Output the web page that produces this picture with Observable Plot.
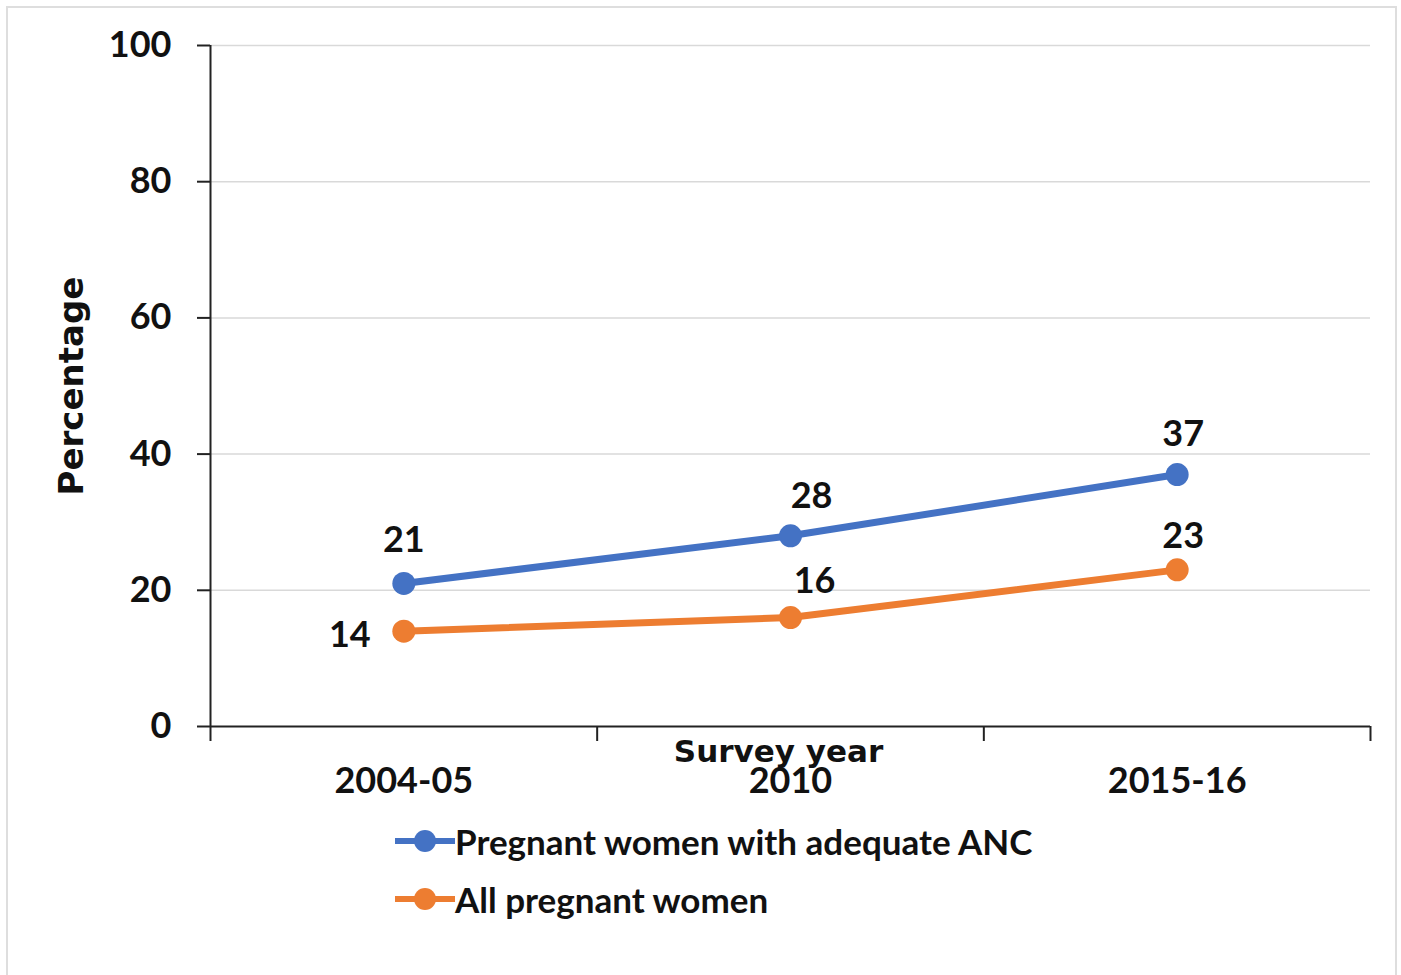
<!DOCTYPE html>
<html>
<head>
<meta charset="utf-8">
<script src="https://cdn.jsdelivr.net/npm/d3@7"></script>
<script src="https://cdn.jsdelivr.net/npm/@observablehq/plot@0.6"></script>
<style>
  html, body { margin: 0; padding: 0; background: #fff; overflow: hidden; }
  body { width: 1401px; height: 975px; position: relative; font-family: Lato, "Open Sans", sans-serif; font-weight: 700; }
  #frame { position: absolute; left: 6px; top: 6px; width: 1391px; height: 1000px; border: 2px solid #dedede; box-sizing: border-box; }
  #chart { position: absolute; left: 0; top: 0; }
  #legend { position: absolute; left: 393px; top: 812px; font-size: 35px; color: #111; }
  .item { display: flex; align-items: center; height: 58px; }
  .item svg { display: block; margin-right: 0; }
</style>
</head>
<body>
<div id="frame"></div>
<div id="chart"></div>
<div id="legend"></div>
<script>
// ---- data ----
const years = ["2004-05", "2010", "2015-16"];
const seriesNames = ["Pregnant women with adequate ANC", "All pregnant women"];
const adequateANC = [21, 28, 37];
const allPregnant = [14, 16, 23];
const yTicks = [0, 20, 40, 60, 80, 100];
const colors = ["#4472C4", "#ED7D31"];

const rows = [];
years.forEach((yr, i) => {
  rows.push({series: seriesNames[0], i: i + 0.5, year: yr, value: adequateANC[i]});
  rows.push({series: seriesNames[1], i: i + 0.5, year: yr, value: allPregnant[i]});
});
const yearTicks = years.map((_, i) => i + 0.5);
const boundaries = d3.range(years.length + 1);

const font = "Lato, 'Open Sans', sans-serif";
const titleFont = "'DejaVu Sans', Verdana, sans-serif";
const labelStyle = {fontSize: 36, fontWeight: 700, fill: "#111", fontFamily: font};
const titleStyle = {fontSize: 31, fontWeight: 700, fill: "#111", fontFamily: titleFont, textAnchor: "middle", lineAnchor: "middle"};
const pick = (s, yi) => d => d.series === seriesNames[s] && d.year === years[yi];

const chart = Plot.plot({
  width: 1401,
  height: 800,
  marginLeft: 210,
  marginRight: 31,
  marginTop: 45,
  marginBottom: 74,
  style: {fontFamily: font, background: "transparent", overflow: "visible"},
  x: {type: "linear", domain: [0, years.length]},
  y: {domain: [0, 100]},
  color: {domain: seriesNames, range: colors},
  marks: [
    Plot.gridY(yTicks.filter(d => d > 0), {stroke: "#d9d9d9", strokeOpacity: 1, strokeWidth: 1.5}),
    Plot.ruleX([0], {stroke: "#222", strokeWidth: 2}),
    Plot.ruleY([0], {stroke: "#222", strokeWidth: 2}),
    Plot.axisY({ticks: yTicks, tickSize: 13, tickPadding: 26, stroke: "#222", strokeWidth: 2,
      fontSize: 36, fontWeight: 700, fill: "#111", label: null}),
    Plot.axisX({ticks: boundaries, tickSize: 15, tickFormat: () => "", stroke: "#222", strokeWidth: 2, label: null}),
    Plot.axisX({ticks: yearTicks, tickSize: 0, tickPadding: 41, tickFormat: d => years[Math.round(d - 0.5)],
      fontSize: 36, fontWeight: 700, fill: "#111", label: null}),
    Plot.text(["Survey year"], {frameAnchor: "bottom", dx: -12, dy: 26, ...titleStyle}),
    Plot.text(["Percentage"], {frameAnchor: "left", rotate: -90, dx: -138, dy: 0, ...titleStyle, fontSize: 34}),
    Plot.line(rows, {x: "i", y: "value", z: "series", stroke: "series", strokeWidth: 7}),
    Plot.dot(rows, {x: "i", y: "value", fill: "series", r: 11.5}),
    Plot.text(rows, {filter: pick(0, 0), x: "i", y: "value", text: "value", dy: -43, ...labelStyle}),
    Plot.text(rows, {filter: pick(1, 0), x: "i", y: "value", text: "value", dx: -54, dy: 4, ...labelStyle}),
    Plot.text(rows, {filter: pick(0, 1), x: "i", y: "value", text: "value", dx: 21, dy: -39, ...labelStyle}),
    Plot.text(rows, {filter: pick(1, 1), x: "i", y: "value", text: "value", dx: 24, dy: -36, ...labelStyle}),
    Plot.text(rows, {filter: pick(0, 2), x: "i", y: "value", text: "value", dx: 6, dy: -40, ...labelStyle}),
    Plot.text(rows, {filter: pick(1, 2), x: "i", y: "value", text: "value", dx: 6, dy: -33, ...labelStyle})
  ]
});
document.getElementById("chart").appendChild(chart);

// legend
const legend = document.getElementById("legend");
seriesNames.forEach((name, k) => {
  const item = document.createElement("div");
  item.className = "item";
  item.innerHTML = `<svg width="62" height="30"><line x1="2" x2="62" y1="15" y2="15" stroke="${colors[k]}" stroke-width="6"/><circle cx="32" cy="15" r="11" fill="${colors[k]}"/></svg><span>${name}</span>`;
  legend.appendChild(item);
});
</script>
</body>
</html>
